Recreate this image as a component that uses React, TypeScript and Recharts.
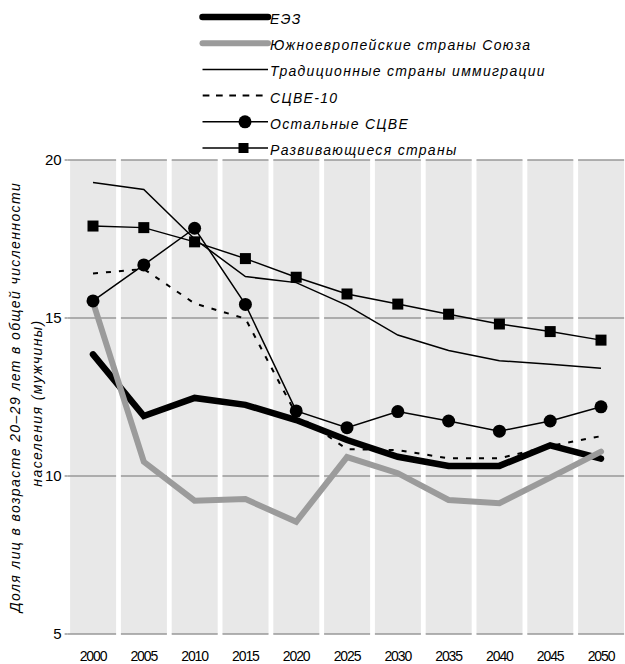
import React from 'react';
import { ComposedChart, Bar, Line, XAxis, YAxis } from 'recharts';

const YEARS = ['2000', '2005', '2010', '2015', '2020', '2025', '2030', '2035', '2040', '2045', '2050'];
const EEZ = [13.85, 11.9, 12.47, 12.25, 11.77, 11.14, 10.61, 10.32, 10.32, 10.97, 10.55];
const SOUTH_EU = [15.5, 10.45, 9.22, 9.27, 8.55, 10.6, 10.09, 9.24, 9.14, 9.95, 10.77];
const TRADITIONAL = [19.29, 19.07, 17.5, 16.31, 16.12, 15.4, 14.46, 13.97, 13.65, 13.54, 13.41];
const CEE10 = [16.41, 16.55, 15.46, 14.98, 11.95, 10.85, 10.82, 10.56, 10.56, 10.95, 11.26];
const OTHER_CEE = [15.54, 16.68, 17.84, 15.43, 12.06, 11.53, 12.04, 11.74, 11.42, 11.74, 12.19];
const DEVELOPING = [17.91, 17.86, 17.41, 16.88, 16.29, 15.76, 15.44, 15.12, 14.81, 14.57, 14.3];

const Y_MIN = 5;
const Y_MAX = 20;
const Y_TICKS = [5, 10, 15, 20];

const Y_TITLE_1 = 'Доля лиц в возрасте 20–29 лет в общей численности';
const Y_TITLE_2 = 'населения (мужчины)';

const FONT = '"Liberation Sans", Arial, Helvetica, sans-serif';
const GRID = '#999999';
const BAND = '#e8e8e8';
const GREY_LINE = '#9b9b9b';
const HALF_GAP = 2.5;

type SeriesDef = {
  key: string;
  name: string;
  values: number[];
  color: string;
  width: number;
  dash?: string;
  marker?: 'circle' | 'square';
};

const SERIES: SeriesDef[] = [
  { key: 'eez', name: 'ЕЭЗ', values: EEZ, color: '#000', width: 6.5 },
  { key: 'south', name: 'Южноевропейские страны Союза', values: SOUTH_EU, color: GREY_LINE, width: 6 },
  { key: 'trad', name: 'Традиционные страны иммиграции', values: TRADITIONAL, color: '#000', width: 1.5 },
  { key: 'cee10', name: 'СЦВЕ-10', values: CEE10, color: '#000', width: 2, dash: '5 8' },
  { key: 'other', name: 'Остальные СЦВЕ', values: OTHER_CEE, color: '#000', width: 1.5, marker: 'circle' },
  { key: 'dev', name: 'Развивающиеся страны', values: DEVELOPING, color: '#000', width: 1.5, marker: 'square' },
];

const rows = YEARS.map((year, i) => {
  const r: Record<string, number | string> = { year, bg: Y_MAX };
  SERIES.forEach((s) => {
    r[s.key] = s.values[i];
  });
  return r;
});

const BandShape = (props: any) => {
  const { x, y, width, height, index } = props;
  const x0 = index === 0 ? x - HALF_GAP : x;
  return (
    <g>
      <rect x={x} y={y} width={width} height={height} fill={BAND} />
      {Y_TICKS.map((t) => {
        const ly = y + (height * (Y_MAX - t)) / (Y_MAX - Y_MIN);
        return <line key={t} x1={x0} x2={x + width} y1={ly} y2={ly} stroke={GRID} strokeWidth={1.5} />;
      })}
    </g>
  );
};

const CircleDot = (props: any) => {
  const { cx, cy } = props;
  if (cx == null || cy == null) return null;
  return <circle cx={cx} cy={cy} r={6.5} fill="#000" />;
};

const SquareDot = (props: any) => {
  const { cx, cy } = props;
  if (cx == null || cy == null) return null;
  return <rect x={cx - 5.5} y={cy - 5.5} width={11} height={11} fill="#000" />;
};

const YTitle = (props: any) => {
  const vb = props.viewBox || {};
  const cy = (vb.y ?? 160) + (vb.height ?? 474) / 2;
  const base = vb.x ?? 0;
  const style = { fontFamily: FONT, fontStyle: 'italic', fontSize: 14, letterSpacing: 1.4 } as React.CSSProperties;
  const x1 = base + 15;
  const x2 = base + 37;
  return (
    <g>
      <text
        x={x1}
        y={cy}
        transform={`rotate(-90, ${x1}, ${cy})`}
        textAnchor="middle"
        dominantBaseline="central"
        fill="#000"
        style={style}
      >
        {Y_TITLE_1}
      </text>
      <text
        x={x2}
        y={cy + 6}
        transform={`rotate(-90, ${x2}, ${cy + 6})`}
        textAnchor="middle"
        dominantBaseline="central"
        fill="#000"
        style={style}
      >
        {Y_TITLE_2}
      </text>
    </g>
  );
};

const LegendBlock = () => (
  <svg width={625} height={160} style={{ position: 'absolute', left: 0, top: 0 }}>
    {SERIES.map((s, i) => {
      const ly = 17 + 26.2 * i;
      return (
        <g key={s.key}>
          <line
            x1={s.dash ? 202.7 : 202.5}
            x2={268}
            y1={ly}
            y2={ly}
            stroke={s.color}
            strokeWidth={s.width}
            strokeDasharray={s.dash ? '6.7 6.6' : undefined}
            strokeLinecap={s.width > 3 ? 'round' : 'butt'}
          />
          {s.marker === 'circle' && <circle cx={245} cy={ly} r={6.5} fill="#000" />}
          {s.marker === 'square' && <rect x={238.5} y={ly - 5} width={10} height={10} fill="#000" />}
          <text
            x={270}
            y={ly + 2}
            dominantBaseline="central"
            fill="#000"
            style={{ fontFamily: FONT, fontStyle: 'italic', fontSize: 14, letterSpacing: 1.3 }}
          >
            {s.name}
          </text>
        </g>
      );
    })}
  </svg>
);

export default function App() {
  return (
    <div style={{ position: 'absolute', left: 0, top: 0, width: 625, height: 664, background: '#fff' }}>
      <ComposedChart
        width={625}
        height={664}
        data={rows}
        margin={{ top: 160, right: -1.4, bottom: 0, left: 0 }}
        barCategoryGap={HALF_GAP}
      >
        <XAxis
          dataKey="year"
          type="category"
          axisLine={false}
          tickLine={false}
          interval={0}
          height={30}
          tickSize={0}
          tickMargin={17.5}
          tick={{ fill: '#000', fontFamily: FONT, fontSize: 14, letterSpacing: -1.1 }}
        />
        <YAxis
          type="number"
          domain={[Y_MIN, Y_MAX]}
          ticks={Y_TICKS}
          width={67.6}
          axisLine={false}
          tickLine={{ stroke: GRID, strokeWidth: 1.5 }}
          tickSize={3}
          tickMargin={3}
          tick={{ fill: '#000', fontFamily: FONT, fontSize: 15 }}
          label={{ content: <YTitle /> }}
        />
        <Bar dataKey="bg" isAnimationActive={false} shape={<BandShape />} legendType="none" />
        {SERIES.map((s) => (
          <Line
            key={s.key}
            dataKey={s.key}
            name={s.name}
            type="linear"
            stroke={s.color}
            strokeWidth={s.width}
            strokeDasharray={s.dash}
            strokeLinecap={s.width > 3 ? 'round' : 'butt'}
            dot={s.marker === 'circle' ? <CircleDot /> : s.marker === 'square' ? <SquareDot /> : false}
            activeDot={false}
            isAnimationActive={false}
          />
        ))}
      </ComposedChart>
      <LegendBlock />
    </div>
  );
}
